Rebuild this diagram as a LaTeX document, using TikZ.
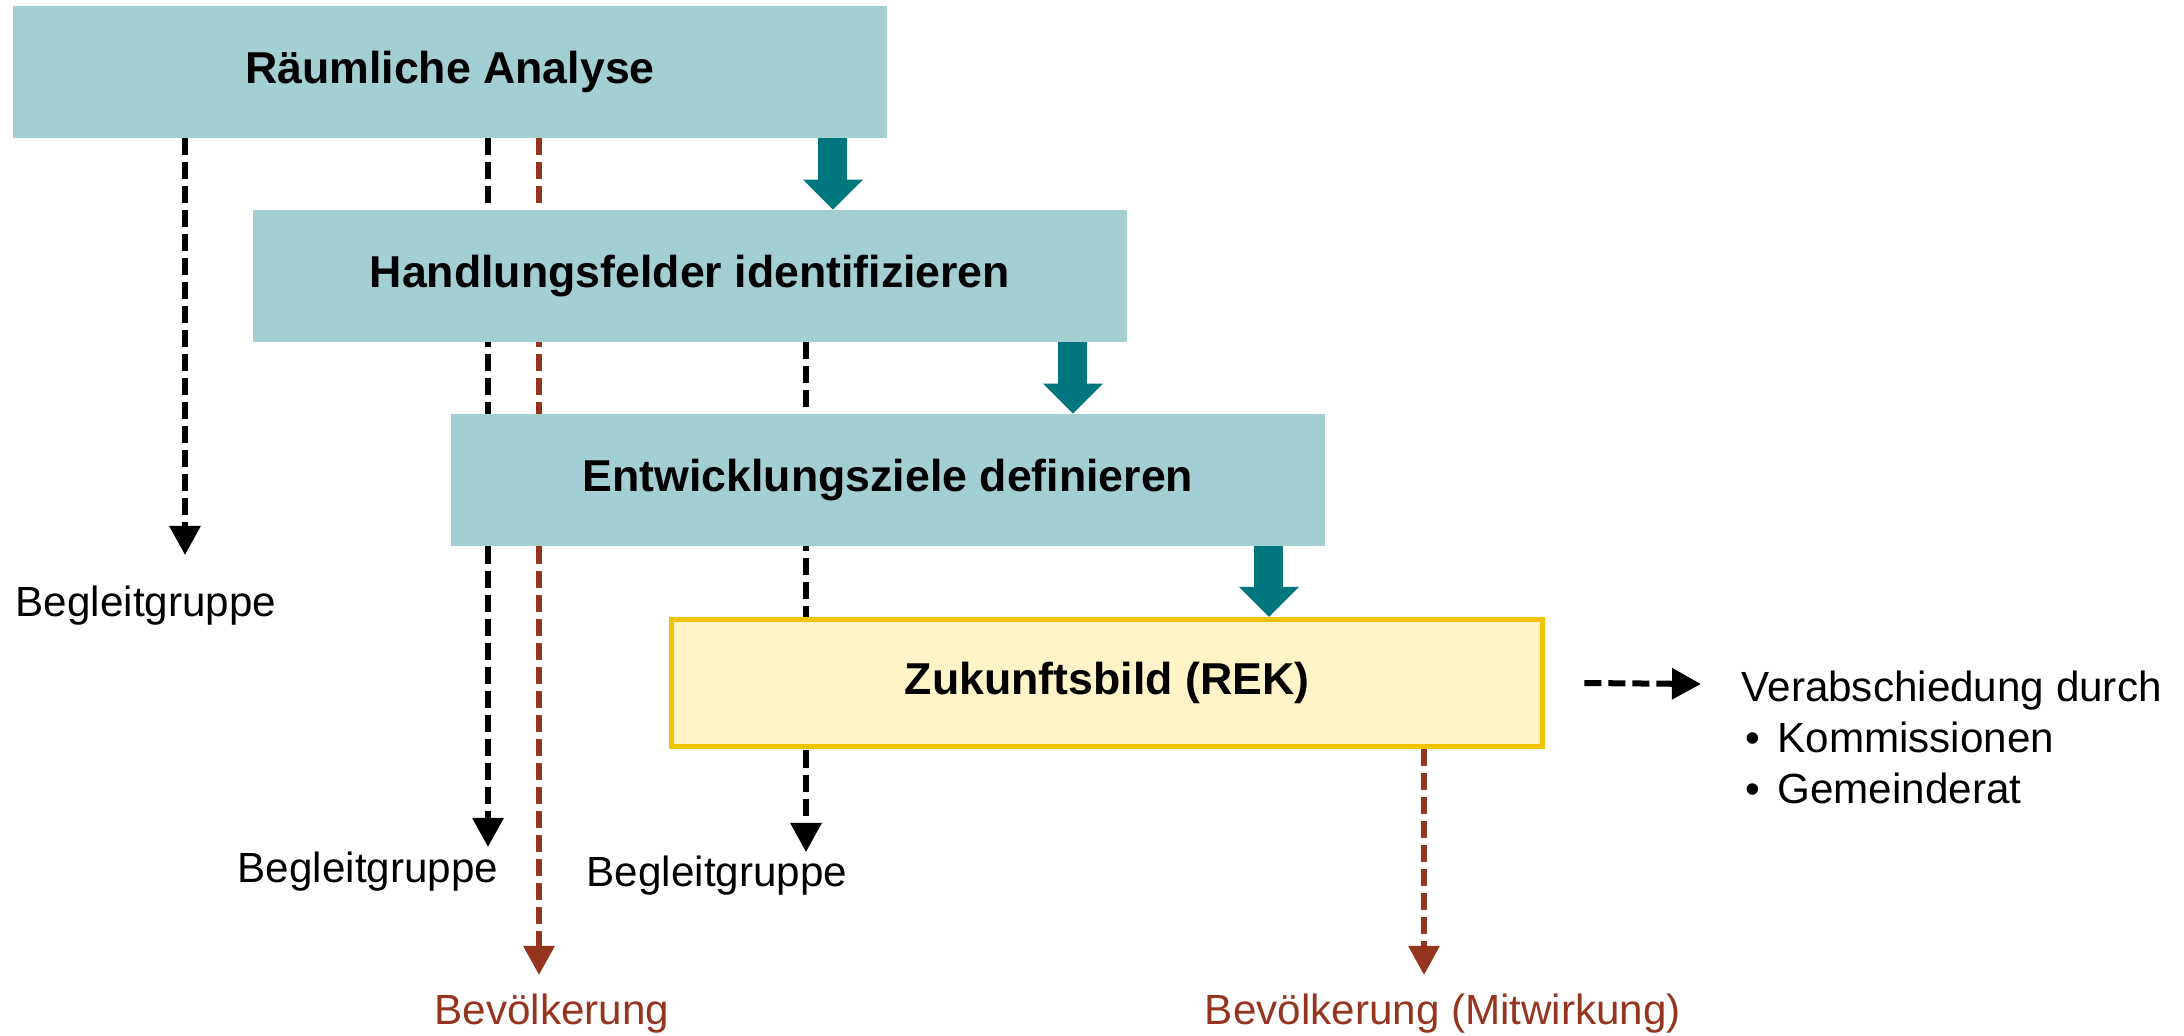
\documentclass[tikz,border=0pt]{standalone}
\usepackage{fontspec}
\setmainfont{Liberation Sans}
\usetikzlibrary{arrows.meta,backgrounds}
\definecolor{stagefill}{HTML}{A3CED2}
\definecolor{stagearrow}{HTML}{00777F}
\definecolor{rekfill}{HTML}{FFF4C8}
\definecolor{rekline}{HTML}{F2C400}
\definecolor{bevred}{HTML}{96351F}
\begin{document}
\begin{tikzpicture}[x=0.01cm,y=-0.01cm,every node/.style={font=\fontsize{12}{14.5}\selectfont},
  stage/.style={fill=stagefill,minimum width=8.74cm,minimum height=1.31cm,font=\bfseries\fontsize{12.7}{15}\selectfont},
  flow/.style={stagearrow,line width=0.29cm,-{Triangle[width=0.58cm,length=0.3cm]}},
  grpline/.style={line width=0.06cm,dash pattern=on 0.17cm off 0.07cm,-{Triangle[width=0.3cm,length=0.29cm]}},
  bevline/.style={grpline,bevred}]
  \useasboundingbox (0,0) rectangle (2184,1036);
  \node[stage] (ana) at (450,72) {Räumliche Analyse};
  \node[stage] (hand) at (690,276) {Handlungsfelder identifizieren};
  \node[stage] (ziele) at (888,480) {Entwicklungsziele definieren};
  \node[stage,fill=rekfill,draw=rekline,line width=0.05cm,minimum width=8.71cm,minimum height=1.27cm] (rek) at (1107,683) {Zukunftsbild (REK)};
  \draw[flow] ([xshift=-0.55cm]ana.south east) -- ([xshift=-0.55cm]ana.south east |- hand.north);
  \draw[flow] ([xshift=-0.55cm]hand.south east) -- ([xshift=-0.55cm]hand.south east |- ziele.north);
  \draw[flow] ([xshift=-0.57cm]ziele.south east) -- ([xshift=-0.57cm]ziele.south east |- rek.north);
  % Begleitgruppe / Bevoelkerung
  \node (bg1) at (146,606) {Begleitgruppe};
  \node (bg2) at (368,872) {Begleitgruppe};
  \node (bg3) at (717,876) {Begleitgruppe};
  \node[text=bevred] (bev1) at (552,1014) {Bevölkerung};
  \node[text=bevred] (bev2) at (1443,1014) {Bevölkerung (Mitwirkung)};
  \coordinate (bgtip1) at (185,555);
  \coordinate (bgtip2) at (488,847);
  \coordinate (bgtip3) at (806,852);
  \coordinate (bevtip1) at (539,975);
  \coordinate (bevtip2) at (1424,975);
  \begin{scope}[on background layer]
    \draw[grpline] (ana.south -| bgtip1) -- (bgtip1);
    \draw[grpline] (ana.south -| bgtip2) -- (bgtip2);
    \draw[grpline] (hand.south -| bgtip3) -- (bgtip3);
    \draw[bevline] (ana.south -| bevtip1) -- (bevtip1);
    \draw[bevline] (rek.south -| bevtip2) -- (bevtip2);
  \end{scope}
  % Verabschiedung
  \node[anchor=west,align=left,inner sep=0pt] (verab) at (1741,737) {Verabschiedung durch\\\hspace*{0.04cm}•\hspace{0.17cm}Kommissionen\\\hspace*{0.04cm}•\hspace{0.17cm}Gemeinderat};
  \coordinate (vertip) at (1701,684);
  \draw[grpline] ([xshift=0.39cm]rek.east) -- (vertip);
\end{tikzpicture}
\end{document}
